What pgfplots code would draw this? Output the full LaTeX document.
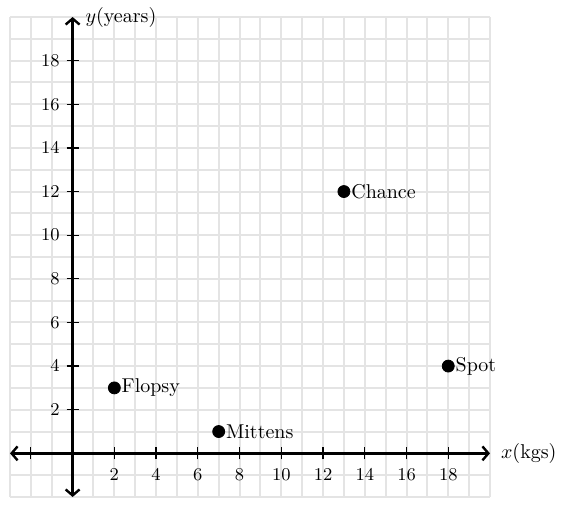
\documentclass[border=0pt]{standalone}
\usepackage{pgfplots}
\pgfplotsset{compat=1.18}
\usetikzlibrary{arrows.meta}
\definecolor{gridgray}{RGB}{228,228,228}

\begin{document}
\begin{tikzpicture}
\begin{axis}[
    scale only axis,
    width=240pt, height=240pt,
    xmin=-3, xmax=20, ymin=-2, ymax=20,
    axis lines=middle,
    every inner x axis line/.append style={line width=1.2pt, {Straight Barb[length=3pt,width=7pt]}-{Straight Barb[length=3pt,width=7pt]}},
    every inner y axis line/.append style={line width=1.2pt, {Straight Barb[length=3pt,width=7pt]}-{Straight Barb[length=3pt,width=7pt]}},
    xtick={-2,2,4,...,18},
    xticklabels={,2,4,6,8,10,12,14,16,18},
    ytick={2,4,...,18},
    minor xtick={-3,...,20},
    minor ytick={-2,...,20},
    grid=both,
    major grid style={gridgray, line width=1pt},
    minor grid style={gridgray, line width=1pt},
    major tick length=6pt,
    minor tick length=0pt,
    tick align=center,
    tick style={black, line width=0.6pt},
    tick label style={font=\small},
    xticklabel style={yshift=-1pt},
    every axis x label/.style={at={(axis description cs:1,0.0909)}, anchor=west, xshift=2pt},
    every axis y label/.style={at={(axis description cs:0.1304,1)}, anchor=west, xshift=3pt},
    xlabel={$x$(kgs)},
    ylabel={$y$(years)},
    clip=false,
]
\addplot[only marks, mark=*, mark size=3pt, black,
    nodes near coords, point meta=explicit symbolic,
    nodes near coords style={anchor=west, xshift=2.5pt, inner sep=1pt, font=\normalsize}]
    table[meta=label] {
x y label
2 3 Flopsy
7 1 Mittens
13 12 Chance
18 4 Spot
};
\end{axis}
\pgfresetboundingbox
\path ([shift={(-5pt,-8.5pt)}]current axis.south west) rectangle ([shift={(39pt,8.5pt)}]current axis.north east);
\end{tikzpicture}
\end{document}
